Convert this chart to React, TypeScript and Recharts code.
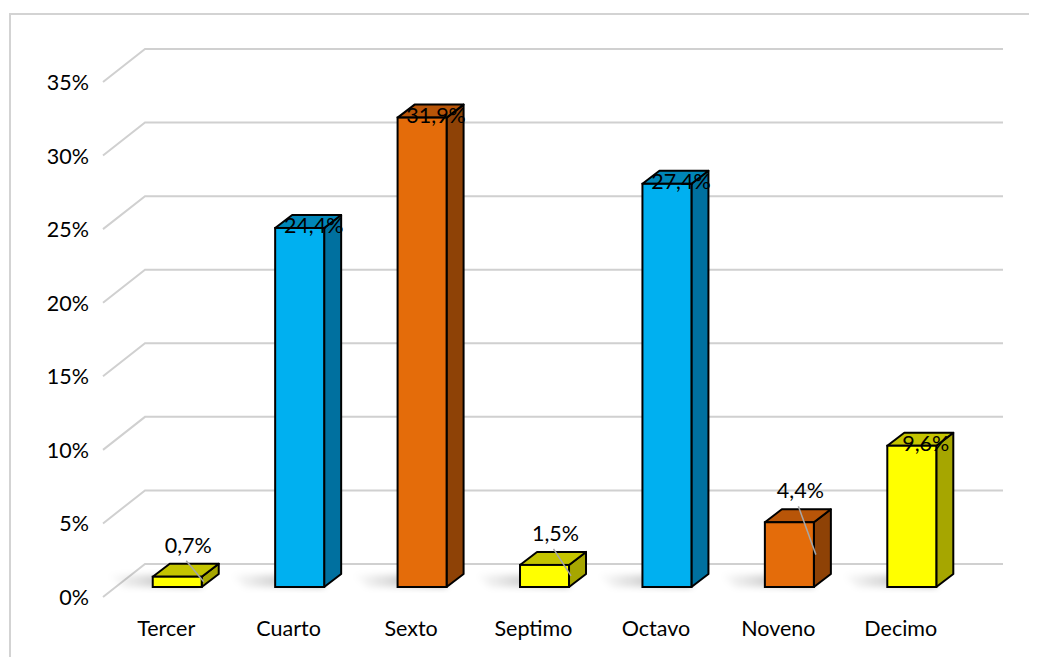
import { Bar, BarChart, CartesianGrid, LabelList, XAxis, YAxis } from "recharts";

// Share of students by semester
const grades = ["Tercer", "Cuarto", "Sexto", "Septimo", "Octavo", "Noveno", "Decimo"];
const shares = [0.7, 24.4, 31.9, 1.5, 27.4, 4.4, 9.6];
const yTicks = [0, 5, 10, 15, 20, 25, 30, 35];

const tones: Record<string, { front: string; top: string; side: string }> = {
  yellow: { front: "#FFFF00", top: "#C4C400", side: "#A6A600" },
  blue: { front: "#00B0F0", top: "#0086B8", side: "#00709F" },
  orange: { front: "#E46C0A", top: "#B85508", side: "#8E4206" },
};
const toneOrder = ["yellow", "blue", "orange", "yellow", "blue", "orange", "yellow"];

const data = grades.map((g, i) => ({ grade: g, share: shares[i] }));

const DX = 17;
const DY = -13;
const FONT = "Lato, Calibri, 'Open Sans', sans-serif";
const FS = 21.5;
const pct = (v: number) => v.toFixed(1).replace(".", ",") + "%";

function Bar3D(props: any) {
  const { x, y, width, height, index } = props;
  const t = tones[toneOrder[index]];
  const base = y + height;
  const r = x + width;
  return (
    <g>
      <defs>
        <linearGradient id={`sh${index}`} x1="0" y1="0" x2="1" y2="0">
          <stop offset="0%" stopColor="#000" stopOpacity={0} />
          <stop offset="100%" stopColor="#000" stopOpacity={0.35} />
        </linearGradient>
        <filter id={`bl${index}`} x="-50%" y="-50%" width="200%" height="200%">
          <feGaussianBlur stdDeviation="3" />
        </filter>
      </defs>
      <polygon
        points={`${x - 45},${base - 12} ${r},${base - 12} ${r},${base} ${x - 30},${base}`}
        fill={`url(#sh${index})`}
        filter={`url(#bl${index})`}
      />
      <polygon
        points={`${r},${y} ${r + DX},${y + DY} ${r + DX},${base + DY} ${r},${base}`}
        fill={t.side}
        stroke="#000"
        strokeWidth={2}
        strokeLinejoin="round"
      />
      <polygon
        points={`${x},${y} ${x + DX},${y + DY} ${r + DX},${y + DY} ${r},${y}`}
        fill={t.top}
        stroke="#000"
        strokeWidth={2}
        strokeLinejoin="round"
      />
      <rect x={x} y={y} width={width} height={height} fill={t.front} stroke="#000" strokeWidth={2} />
    </g>
  );
}

function ValueLabel(props: any) {
  const { x, y, width, height, value } = props;
  const cx = x + width / 2;
  if (value < 5) {
    const lx = cx + 11;
    const ly = y - 32;
    return (
      <g>
        <line x1={lx - 2} y1={ly + 16} x2={x + width + 2} y2={y + height / 2} stroke="#A6A6A6" strokeWidth={1.5} />
        <text x={lx} y={ly} textAnchor="middle" dominantBaseline="central" fontSize={FS} fontFamily={FONT} fill="#000">
          {pct(value)}
        </text>
      </g>
    );
  }
  return (
    <text x={cx + 14} y={y - 3} textAnchor="middle" dominantBaseline="central" fontSize={FS} fontFamily={FONT} fill="#000">
      {pct(value)}
    </text>
  );
}

function GridLine(props: any) {
  const { x1, x2, y1 } = props;
  return (
    <polyline
      points={`${x1 - 13},${y1 + 10} ${x1 + 29},${y1 - 23} ${x2 + 30},${y1 - 23}`}
      fill="none"
      stroke="#D0D0D0"
      strokeWidth={2}
    />
  );
}

function YTick(props: any) {
  const { x, y, payload } = props;
  return (
    <text x={x - 27} y={y + 10} textAnchor="end" dominantBaseline="central" fontSize={FS} fontFamily={FONT} fill="#000">
      {payload.value}%
    </text>
  );
}

function XTick(props: any) {
  const { x, y, payload } = props;
  return (
    <text x={x - 11} y={y + 41} textAnchor="middle" dominantBaseline="central" fontSize={FS} fontFamily={FONT} fill="#000">
      {payload.value}
    </text>
  );
}

export default function App() {
  return (
    <div style={{ position: "relative", width: 1021, height: 649, overflow: "hidden" }}>
      <div
        style={{
          position: "absolute",
          left: 1,
          top: 5,
          width: 1060,
          height: 700,
          border: "2px solid #D3D3D3",
          boxSizing: "border-box",
        }}
      />
      <BarChart
        width={1021}
        height={649}
        data={data}
        margin={{ top: 64, right: 56, bottom: 0, left: 8 }}
        barCategoryGap="30%"
        style={{ position: "absolute", left: 0, top: 0 }}
      >
        <CartesianGrid horizontal={GridLine} vertical={false} />
        <XAxis
          dataKey="grade"
          axisLine={false}
          tickLine={false}
          tickSize={0}
          tickMargin={0}
          height={70}
          tick={XTick}
          interval={0}
        />
        <YAxis
          domain={[0, 35]}
          ticks={yTicks}
          axisLine={false}
          tickLine={false}
          tickSize={0}
          tickMargin={0}
          width={100}
          tick={YTick}
        />
        <Bar dataKey="share" shape={Bar3D} isAnimationActive={false}>
          <LabelList dataKey="share" content={ValueLabel} />
        </Bar>
      </BarChart>
    </div>
  );
}
